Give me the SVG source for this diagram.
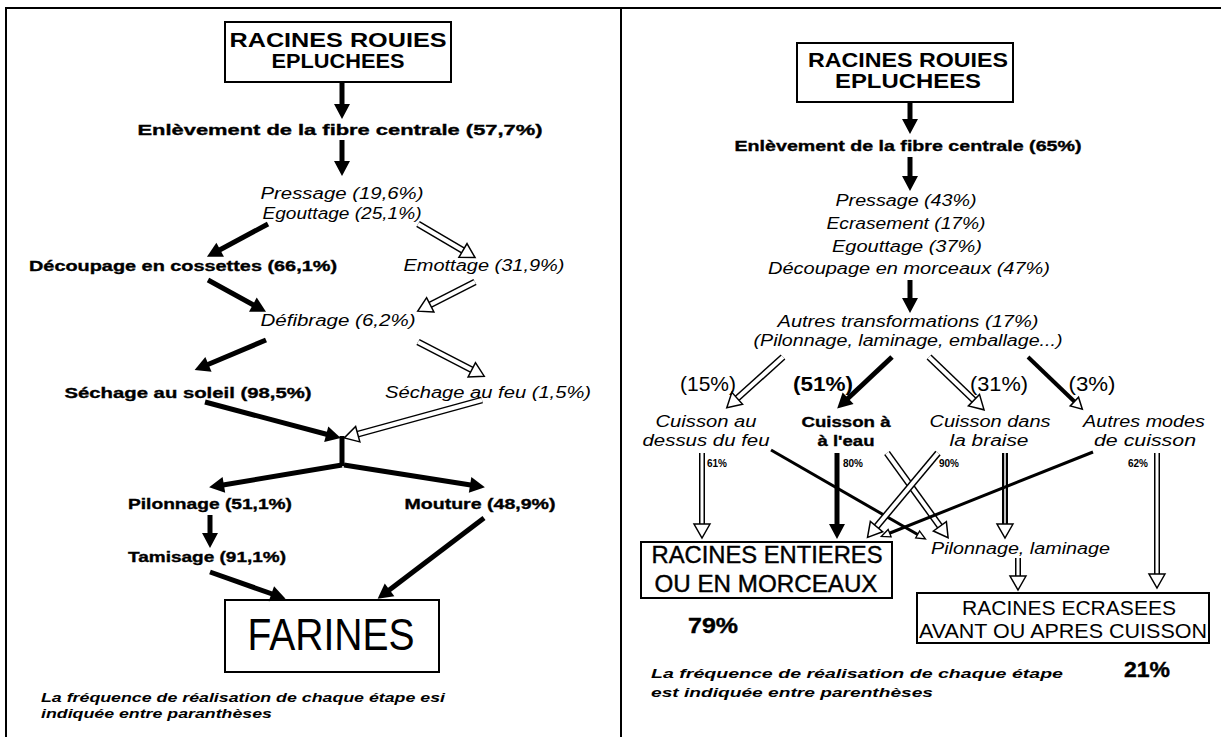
<svg xmlns="http://www.w3.org/2000/svg" width="1221" height="737" viewBox="0 0 1221 737">
<defs>
<style>
text{font-family:"Liberation Sans",Arial,Helvetica,sans-serif;fill:#000;text-anchor:middle}
.b{font-weight:bold;font-size:15px;stroke:#000;stroke-width:0.35}
.i{font-style:italic;font-size:16px}
.t{font-weight:bold;font-size:21px}
.big{font-size:44px}
.bx{font-size:23px;stroke:#000;stroke-width:0.4}
.bx2{font-size:20px}
.pc{font-size:21px}
.pcb{font-size:21px;font-weight:bold}
.sm{font-size:10px;font-weight:bold;text-anchor:start}
.pct{font-size:22px;font-weight:bold;stroke:#000;stroke-width:0.4}
.fn{font-style:italic;font-weight:bold;font-size:13px;text-anchor:start}
.box{fill:none;stroke:#000;stroke-width:2}
.frame{stroke:#000;stroke-width:2;fill:none}
.bk{stroke:#000;stroke-width:5;fill:none;marker-end:url(#hb)}
.ho{stroke:#000;stroke-width:7;fill:none}
.hi{stroke:#fff;stroke-width:4;fill:none;marker-end:url(#hh)}
.hv{stroke:#000;stroke-width:6;fill:none}
.hvi{stroke:#fff;stroke-width:3;fill:none;marker-end:url(#hh)}
.hd{stroke:#000;stroke-width:6;fill:none}
.hdi{stroke:#fff;stroke-width:1.5;fill:none;marker-end:url(#hh)}
.th{stroke:#000;stroke-width:3;fill:none;marker-end:url(#hs)}
.tq{stroke:#000;stroke-width:4;fill:none;marker-end:url(#hm)}
</style>
<marker id="hb" markerUnits="userSpaceOnUse" orient="auto" overflow="visible" refX="7" refY="0" markerWidth="20" markerHeight="20"><path d="M0,-8 L15,0 L0,8 Z" fill="#000"/></marker>
<marker id="hh" markerUnits="userSpaceOnUse" orient="auto" overflow="visible" refX="7" refY="0" markerWidth="20" markerHeight="20"><path d="M0,-8 L14,0 L0,8 Z" fill="#fff" stroke="#000" stroke-width="1.5"/></marker>
<marker id="hm" markerUnits="userSpaceOnUse" orient="auto" overflow="visible" refX="5" refY="0" markerWidth="20" markerHeight="20"><path d="M0,-6 L11,0 L0,6 Z" fill="#fff" stroke="#000" stroke-width="1.5"/></marker>
<marker id="hs" markerUnits="userSpaceOnUse" orient="auto" overflow="visible" refX="5" refY="0" markerWidth="20" markerHeight="20"><path d="M0,-4 L9,0 L0,4 Z" fill="#fff" stroke="#000" stroke-width="1.3"/></marker>
</defs>
<rect x="0" y="0" width="1221" height="737" fill="#fff"/>
<g id="frame">
<path class="frame" d="M6,737 V8 H1221"/>
<line class="frame" x1="621" y1="8" x2="621" y2="737"/>
</g>

<g id="connectors">
<!-- left panel -->
<line class="bk" x1="342" y1="83" x2="342" y2="111"/>
<line class="bk" x1="342" y1="140" x2="342" y2="168"/>
<line class="bk" x1="268" y1="224" x2="214" y2="253"/>
<line class="ho" x1="418" y1="224" x2="469" y2="254"/><line class="hi" x1="418" y1="224" x2="469" y2="254"/>
<line class="bk" x1="208" y1="280" x2="259" y2="308"/>
<line class="ho" x1="475" y1="282" x2="424" y2="308"/><line class="hi" x1="475" y1="282" x2="424" y2="308"/>
<line class="bk" x1="266" y1="340" x2="202" y2="367"/>
<line class="ho" x1="418" y1="342" x2="478" y2="373"/><line class="hi" x1="418" y1="342" x2="478" y2="373"/>
<line class="bk" x1="205" y1="402" x2="333" y2="436"/>
<line class="ho" x1="482" y1="400" x2="351" y2="436"/><line class="hi" x1="482" y1="400" x2="351" y2="436"/>
<line stroke="#000" stroke-width="5" x1="342" y1="436" x2="342" y2="466"/>
<line class="bk" x1="342" y1="465" x2="217" y2="486"/>
<line class="bk" x1="344" y1="465" x2="477" y2="486"/>
<line class="bk" x1="210" y1="515" x2="210" y2="540"/>
<line class="bk" x1="210" y1="572" x2="278" y2="596"/>
<line class="bk" x1="484" y1="518" x2="384" y2="594"/>
<!-- right panel -->
<line class="bk" x1="910" y1="102" x2="910" y2="126"/>
<line class="bk" x1="910" y1="157" x2="910" y2="183"/>
<line class="bk" x1="910" y1="280" x2="910" y2="305"/>
<line class="ho" x1="783" y1="357" x2="732" y2="403"/><line class="hi" x1="783" y1="357" x2="732" y2="403"/>
<line class="bk" x1="892" y1="357" x2="843" y2="403"/>
<line class="ho" x1="929" y1="357" x2="979" y2="405"/><line class="hi" x1="929" y1="357" x2="979" y2="405"/>
<line class="tq" x1="1028" y1="357" x2="1078" y2="405"/>
<line class="hv" x1="702" y1="453" x2="702" y2="531"/><line class="hvi" x1="702" y1="453" x2="702" y2="531"/>
<line class="th" x1="771" y1="450" x2="922" y2="537"/>
<line class="bk" x1="837" y1="453" x2="837" y2="531"/>
<line class="ho" x1="887" y1="453" x2="944" y2="532"/><line class="hi" x1="887" y1="453" x2="944" y2="532"/>
<line class="ho" x1="938" y1="453" x2="872" y2="532"/><line class="hi" x1="938" y1="453" x2="872" y2="532"/>
<line class="hd" x1="1005" y1="453" x2="1005" y2="531"/><line class="hdi" x1="1005" y1="453" x2="1005" y2="531"/>
<line class="th" x1="1093" y1="452" x2="885" y2="535"/>
<line class="hv" x1="1157" y1="453" x2="1157" y2="581"/><line class="hvi" x1="1157" y1="453" x2="1157" y2="581"/>
<line class="hv" x1="1018" y1="558" x2="1018" y2="583"/><line class="hvi" x1="1018" y1="558" x2="1018" y2="583"/>
</g>

<!-- LEFT PANEL NODES -->
<g id="l-racines">
<rect class="box" x="225" y="22" width="226" height="60"/>
<text class="t" x="338" y="47" textLength="217" lengthAdjust="spacingAndGlyphs">RACINES ROUIES</text>
<text class="t" x="338" y="68" textLength="133" lengthAdjust="spacingAndGlyphs">EPLUCHEES</text>
</g>
<g id="l-enlevement"><text class="b" x="340" y="135" textLength="405" lengthAdjust="spacingAndGlyphs">Enlèvement de la fibre centrale (57,7%)</text></g>
<g id="l-pressage">
<text class="i" x="342" y="199" textLength="163" lengthAdjust="spacingAndGlyphs">Pressage (19,6%)</text>
<text class="i" x="342" y="219" textLength="159" lengthAdjust="spacingAndGlyphs">Egouttage (25,1%)</text>
</g>
<g id="l-decoupage"><text class="b" x="183" y="271" textLength="308" lengthAdjust="spacingAndGlyphs">Découpage en cossettes (66,1%)</text></g>
<g id="l-emottage"><text class="i" x="484" y="271" textLength="161" lengthAdjust="spacingAndGlyphs">Emottage (31,9%)</text></g>
<g id="l-defibrage"><text class="i" x="338" y="326" textLength="155" lengthAdjust="spacingAndGlyphs">Défibrage (6,2%)</text></g>
<g id="l-sechage-soleil"><text class="b" x="188" y="398" textLength="247" lengthAdjust="spacingAndGlyphs">Séchage au soleil (98,5%)</text></g>
<g id="l-sechage-feu"><text class="i" x="488" y="398" textLength="206" lengthAdjust="spacingAndGlyphs">Séchage au feu (1,5%)</text></g>
<g id="l-pilonnage"><text class="b" x="210" y="509" textLength="164" lengthAdjust="spacingAndGlyphs">Pilonnage (51,1%)</text></g>
<g id="l-mouture"><text class="b" x="480" y="509" textLength="151" lengthAdjust="spacingAndGlyphs">Mouture (48,9%)</text></g>
<g id="l-tamisage"><text class="b" x="207" y="562" textLength="158" lengthAdjust="spacingAndGlyphs">Tamisage (91,1%)</text></g>
<g id="l-farines">
<rect class="box" x="225" y="600" width="214" height="72"/>
<text class="big" x="331" y="650" textLength="167" lengthAdjust="spacingAndGlyphs">FARINES</text>
</g>
<g id="l-note">
<text class="fn" x="41" y="702" textLength="404" lengthAdjust="spacingAndGlyphs">La fréquence de réalisation de chaque étape esi</text>
<text class="fn" x="41" y="718" textLength="231" lengthAdjust="spacingAndGlyphs">indiquée entre paranthèses</text>
</g>

<!-- RIGHT PANEL NODES -->
<g id="r-racines">
<rect class="box" x="797" y="43" width="216" height="59"/>
<text class="t" x="908" y="67" textLength="200" lengthAdjust="spacingAndGlyphs">RACINES ROUIES</text>
<text class="t" x="908" y="88" textLength="146" lengthAdjust="spacingAndGlyphs">EPLUCHEES</text>
</g>
<g id="r-enlevement"><text class="b" x="908" y="151" textLength="347" lengthAdjust="spacingAndGlyphs">Enlèvement de la fibre centrale (65%)</text></g>
<g id="r-pressage">
<text class="i" x="906" y="206" textLength="141" lengthAdjust="spacingAndGlyphs">Pressage (43%)</text>
<text class="i" x="906" y="229" textLength="159" lengthAdjust="spacingAndGlyphs">Ecrasement (17%)</text>
<text class="i" x="907" y="252" textLength="150" lengthAdjust="spacingAndGlyphs">Egouttage (37%)</text>
<text class="i" x="909" y="274" textLength="282" lengthAdjust="spacingAndGlyphs">Découpage en morceaux (47%)</text>
</g>
<g id="r-autres">
<text class="i" x="908" y="327" textLength="261" lengthAdjust="spacingAndGlyphs">Autres transformations (17%)</text>
<text class="i" x="908" y="346" textLength="309" lengthAdjust="spacingAndGlyphs">(Pilonnage, laminage, emballage...)</text>
</g>
<g id="r-pcts">
<text class="pc" x="708" y="391" textLength="56" lengthAdjust="spacingAndGlyphs">(15%)</text>
<text class="pcb" x="823" y="391" textLength="60" lengthAdjust="spacingAndGlyphs">(51%)</text>
<text class="pc" x="999" y="391" textLength="58" lengthAdjust="spacingAndGlyphs">(31%)</text>
<text class="pc" x="1092" y="391" textLength="47" lengthAdjust="spacingAndGlyphs">(3%)</text>
</g>
<g id="r-cuisson-feu">
<text class="i" x="706" y="427" textLength="101" lengthAdjust="spacingAndGlyphs">Cuisson au</text>
<text class="i" x="706" y="446" textLength="127" lengthAdjust="spacingAndGlyphs">dessus du feu</text>
<text class="sm" x="707" y="467">61%</text>
</g>
<g id="r-cuisson-eau">
<text class="b" x="846" y="427" textLength="89" lengthAdjust="spacingAndGlyphs">Cuisson à</text>
<text class="b" x="846" y="446" textLength="57" lengthAdjust="spacingAndGlyphs">à l'eau</text>
<text class="sm" x="843" y="467">80%</text>
</g>
<g id="r-cuisson-braise">
<text class="i" x="990" y="427" textLength="121" lengthAdjust="spacingAndGlyphs">Cuisson dans</text>
<text class="i" x="989" y="446" textLength="79" lengthAdjust="spacingAndGlyphs">la braise</text>
<text class="sm" x="939" y="467">90%</text>
</g>
<g id="r-autres-modes">
<text class="i" x="1144" y="427" textLength="122" lengthAdjust="spacingAndGlyphs">Autres modes</text>
<text class="i" x="1145" y="446" textLength="102" lengthAdjust="spacingAndGlyphs">de cuisson</text>
<text class="sm" x="1128" y="467">62%</text>
</g>
<g id="r-entieres">
<rect class="box" x="641" y="542" width="251" height="56"/>
<text class="bx" x="767" y="563" textLength="231" lengthAdjust="spacingAndGlyphs">RACINES ENTIERES</text>
<text class="bx" x="766" y="592" textLength="223" lengthAdjust="spacingAndGlyphs">OU EN MORCEAUX</text>
<text class="pct" x="713" y="633" textLength="50" lengthAdjust="spacingAndGlyphs">79%</text>
</g>
<g id="r-pilonnage"><text class="i" x="931" y="554" style="text-anchor:start" textLength="179" lengthAdjust="spacingAndGlyphs">Pilonnage, laminage</text></g>
<g id="r-ecrasees">
<rect class="box" x="917" y="593" width="292" height="50"/>
<text class="bx2" x="1069" y="615" textLength="214" lengthAdjust="spacingAndGlyphs">RACINES ECRASEES</text>
<text class="bx2" x="1063" y="638" textLength="288" lengthAdjust="spacingAndGlyphs">AVANT OU APRES CUISSON</text>
<text class="pct" x="1147" y="677" textLength="46" lengthAdjust="spacingAndGlyphs">21%</text>
</g>
<g id="r-note">
<text class="fn" x="651" y="678" textLength="412" lengthAdjust="spacingAndGlyphs">La fréquence de réalisation de chaque étape</text>
<text class="fn" x="651" y="697" textLength="282" lengthAdjust="spacingAndGlyphs">est indiquée entre parenthèses</text>
</g>
</svg>
